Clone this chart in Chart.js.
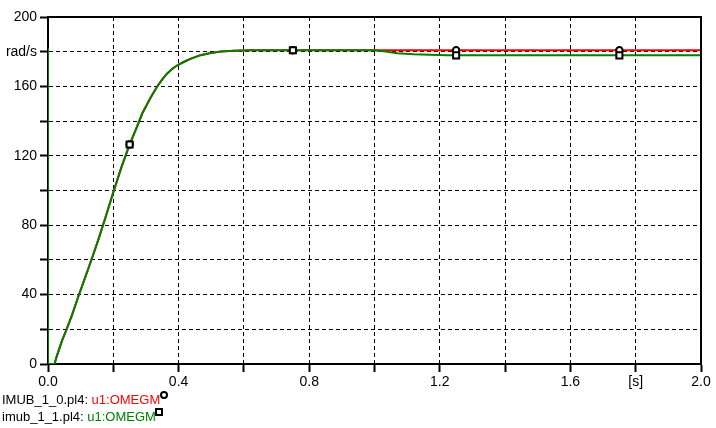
<!DOCTYPE html>
<html>
<head>
<meta charset="utf-8">
<script src="https://cdn.jsdelivr.net/npm/chart.js@4"></script>
<style>
  body { margin: 0; background: #fff; }
  #wrap { position: relative; width: 716px; height: 428px; }
  .leg { position: absolute; left: 2px; font: 13px/13px "Liberation Sans", Arial, sans-serif; color: #000; white-space: nowrap; }
  .mk { position: absolute; border: 2px solid #000; background: #fff; }
</style>
</head>
<body>
<div id="wrap">
  <canvas id="omegaChart"></canvas>
  <div class="leg" style="top:393px">IMUB_1_0.pl4: <span style="color:#ff0000">u1:OMEGM</span></div>
  <div class="mk" style="left:160px;top:391px;width:4px;height:4px;border-radius:50%"></div>
  <div class="leg" style="top:410px">imub_1_1.pl4: <span style="color:#008000">u1:OMEGM</span></div>
  <div class="mk" style="left:155px;top:408px;width:4px;height:4px"></div>
</div>
<script>
// time [s] and rotor speed [rad/s]
const times  = [0, 0, 0.02, 0.026, 0.043, 0.056, 0.074, 0.094, 0.115, 0.132, 0.154, 0.177, 0.2, 0.225, 0.25, 0.273, 0.289, 0.314, 0.334, 0.35, 0.365, 0.383, 0.4, 0.42, 0.436, 0.467, 0.498, 0.53, 0.57, 0.62, 0.75, 1.0, 1.034, 1.07, 1.12, 1.22, 1.25, 1.75, 2.0];
const omega0 = [182, 0, 0, 4, 13.5, 19.5, 28.5, 39.5, 50.5, 59.5, 71.5, 85, 99, 113.5, 126.5, 137, 144.5, 153.5, 159.8, 164, 167.5, 170.5, 172.6, 174.5, 175.9, 178, 179.3, 180.1, 180.5, 180.8, 180.8, 180.8, 180.8, 180.8, 180.8, 180.8, 180.8, 180.8, 180.8];
const omega1 = [182, 0, 0, 4, 13.5, 19.5, 28.5, 39.5, 50.5, 59.5, 71.5, 85, 99, 113.5, 126.5, 137, 144.5, 153.5, 159.8, 164, 167.5, 170.5, 172.6, 174.5, 175.9, 178, 179.3, 180.1, 180.5, 180.8, 180.8, 180.8, 180.1, 179.1, 178.5, 177.9, 177.9, 177.9, 177.9];
const markerTimes = [0.25, 0.75, 1.25, 1.75];
const xTickLabels = ['0.0', '', '0.4', '', '0.8', '', '1.2', '', '1.6', '[s]', '2.0'];
const yTickLabels = ['0', '', '40', '', '80', '', '120', '', '160', 'rad/s', '200'];

const toPoints = vals => times.map((t, i) => ({ x: t, y: vals[i] }));
const isMarker = ctx => markerTimes.includes(times[ctx.dataIndex]);

const frame = {
    id: 'frame',
    afterDatasetsDraw(chart) {
        const { ctx, chartArea: a } = chart;
        ctx.save();
        ctx.strokeStyle = '#000';
        ctx.lineWidth = 2;
        ctx.beginPath();
        ctx.moveTo(a.left, a.top);
        ctx.lineTo(a.right, a.top);
        ctx.lineTo(a.right, a.bottom);
        ctx.stroke();
        ctx.restore();
    }
};

const font = { family: '"Liberation Sans", Arial, sans-serif', size: 14 };

new Chart(document.getElementById('omegaChart'), {
    type: 'line',
    data: {
        datasets: [{
            label: 'imub_1_1.pl4: u1:OMEGM',
            data: toPoints(omega1),
            borderColor: '#008000',
            borderWidth: 2,
            pointStyle: 'rect',
            pointRadius: ctx => isMarker(ctx) ? 4.3 : 0,
            pointBackgroundColor: '#fff',
            pointBorderColor: '#000',
            pointBorderWidth: 2,
            tension: 0
        }, {
            label: 'IMUB_1_0.pl4: u1:OMEGM',
            data: toPoints(omega0),
            borderColor: '#ff0000',
            borderWidth: 2,
            pointStyle: 'circle',
            pointRadius: ctx => isMarker(ctx) ? 3.2 : 0,
            pointBackgroundColor: '#fff',
            pointBorderColor: '#000',
            pointBorderWidth: 2,
            tension: 0
        }]
    },
    options: {
        responsive: true,
        maintainAspectRatio: false,
        animation: false,
        layout: { padding: { top: 17, right: 15, left: 0, bottom: 0 } },
        plugins: { legend: { display: false }, tooltip: { enabled: false } },
        scales: {
            x: {
                type: 'linear',
                min: 0,
                max: 2,
                afterFit: s => { s.height = 64; },
                ticks: {
                    stepSize: 0.2,
                    maxRotation: 0,
                    autoSkip: false,
                    padding: 2,
                    color: '#000',
                    font: font,
                    callback: (v, i) => xTickLabels[i]
                },
                grid: { color: '#000', lineWidth: 1, tickLength: 8, tickColor: '#000', tickWidth: 2 },
                border: { display: true, color: '#000', width: 2, dash: [4, 3] }
            },
            y: {
                min: 0,
                max: 200,
                afterFit: s => { s.width = 48; },
                ticks: {
                    stepSize: 20,
                    autoSkip: false,
                    padding: 3,
                    color: '#000',
                    font: font,
                    callback: (v, i) => yTickLabels[i]
                },
                grid: { color: '#000', lineWidth: 1, tickLength: 8, tickColor: '#000', tickWidth: 2 },
                border: { display: true, color: '#000', width: 2, dash: [4, 3] }
            }
        }
    },
    plugins: [frame]
});
</script>
</body>
</html>
